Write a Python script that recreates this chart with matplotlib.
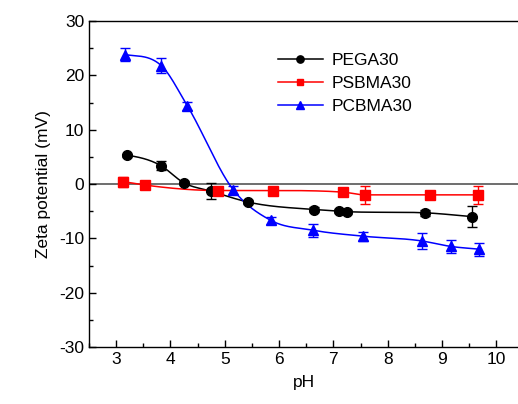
import numpy as np
import matplotlib
matplotlib.use('Agg')
import matplotlib.pyplot as plt
from matplotlib.ticker import MultipleLocator

# === data ===
ph_pega = [3.20, 3.82, 4.25, 4.74, 5.42, 6.65, 7.10, 7.26, 8.68, 9.55]
zeta_pega = [5.3, 3.4, 0.2, -1.3, -3.3, -4.7, -5.0, -5.1, -5.3, -6.0]
err_pega = [0.3, 0.8, 0.3, 1.4, 0.3, 0.4, 0.4, 0.4, 0.6, 2.0]

ph_psbma = [3.12, 3.53, 4.87, 5.88, 7.18, 7.59, 8.78, 9.67]
zeta_psbma = [0.4, -0.2, -1.2, -1.2, -1.5, -2.0, -2.0, -2.0]
err_psbma = [0.9, 0.3, 0.4, 0.3, 0.7, 1.7, 0.6, 1.6]

ph_pcbma = [3.17, 3.83, 4.31, 5.16, 5.85, 6.62, 7.54, 8.64, 9.17, 9.69]
zeta_pcbma = [23.8, 21.8, 14.4, -1.1, -6.7, -8.5, -9.6, -10.5, -11.5, -12.0]
err_pcbma = [1.2, 1.3, 0.7, 0.8, 0.7, 1.2, 0.8, 1.5, 1.2, 1.2]


def smooth(x, y, xn):
    # cubic hermite through the points, weighted-mean tangents, no overshoot
    x = np.asarray(x, float)
    y = np.asarray(y, float)
    h = np.diff(x)
    d = np.diff(y) / h
    m = np.zeros_like(y)
    for k in range(1, len(x) - 1):
        if d[k - 1] * d[k] > 0:
            t = (h[k] * d[k - 1] + h[k - 1] * d[k]) / (h[k - 1] + h[k])
            lim = 3 * min(abs(d[k - 1]), abs(d[k]))
            m[k] = np.sign(t) * min(abs(t), lim)
    m[0] = 0.5 * d[0]
    m[-1] = d[-1]
    idx = np.clip(np.searchsorted(x, xn) - 1, 0, len(x) - 2)
    t = (xn - x[idx]) / h[idx]
    h00 = 2 * t**3 - 3 * t**2 + 1
    h10 = t**3 - 2 * t**2 + t
    h01 = -2 * t**3 + 3 * t**2
    h11 = t**3 - t**2
    return h00 * y[idx] + h10 * h[idx] * m[idx] + h01 * y[idx + 1] + h11 * h[idx] * m[idx + 1]


plt.rcParams['font.family'] = ['Liberation Sans', 'DejaVu Sans']
plt.rcParams['axes.unicode_minus'] = False

fig = plt.figure(figsize=(5.18, 4.04), dpi=100)
ax = fig.add_axes([89 / 518, 57 / 404, 1 - 89 / 518, 326 / 404])

ax.axhline(0, color='#555555', lw=1.2, zorder=1)

series = [
    (ph_pega, zeta_pega, err_pega, 'black', 'o', 'PEGA30', 7),
    (ph_psbma, zeta_psbma, err_psbma, 'red', 's', 'PSBMA30', 6.5),
    (ph_pcbma, zeta_pcbma, err_pcbma, 'blue', '^', 'PCBMA30', 7.5),
]
handles = []
for xs, ys, es, c, mk, lab, ms in series:
    xn = np.linspace(xs[0], xs[-1], 400)
    ax.plot(xn, smooth(xs, ys, xn), color=c, lw=1.1, zorder=2)
    ax.errorbar(xs, ys, yerr=es, fmt=mk, color=c, ms=ms, capsize=3.5,
                elinewidth=1, capthick=1, zorder=3)
    h, = ax.plot([], [], color=c, marker=mk, ms=ms * 0.75, lw=1.1, label=lab)
    handles.append(h)

ax.legend(handles=handles, loc='upper left', bbox_to_anchor=(0.42, 0.93),
          frameon=False, fontsize=12.5, handlelength=2.6, handletextpad=0.5,
          labelspacing=0.45, borderpad=0)

ax.set_xlim(2.5, 10.4)
ax.set_ylim(-30, 30)
ax.xaxis.set_major_locator(MultipleLocator(1))
ax.xaxis.set_minor_locator(MultipleLocator(0.5))
ax.yaxis.set_major_locator(MultipleLocator(10))
ax.yaxis.set_minor_locator(MultipleLocator(5))
ax.tick_params(which='both', direction='in', labelsize=12.5, top=False, right=False)
ax.tick_params(which='major', length=5, width=1)
ax.tick_params(which='minor', length=3, width=1)
ax.spines['right'].set_visible(False)
for s in ['left', 'bottom', 'top']:
    ax.spines[s].set_linewidth(1)

ax.set_xlabel('pH', fontsize=12.5, labelpad=6)
ax.set_ylabel('Zeta potential (mV)', fontsize=12.5, labelpad=6)

fig.savefig('out.png', dpi=100)
